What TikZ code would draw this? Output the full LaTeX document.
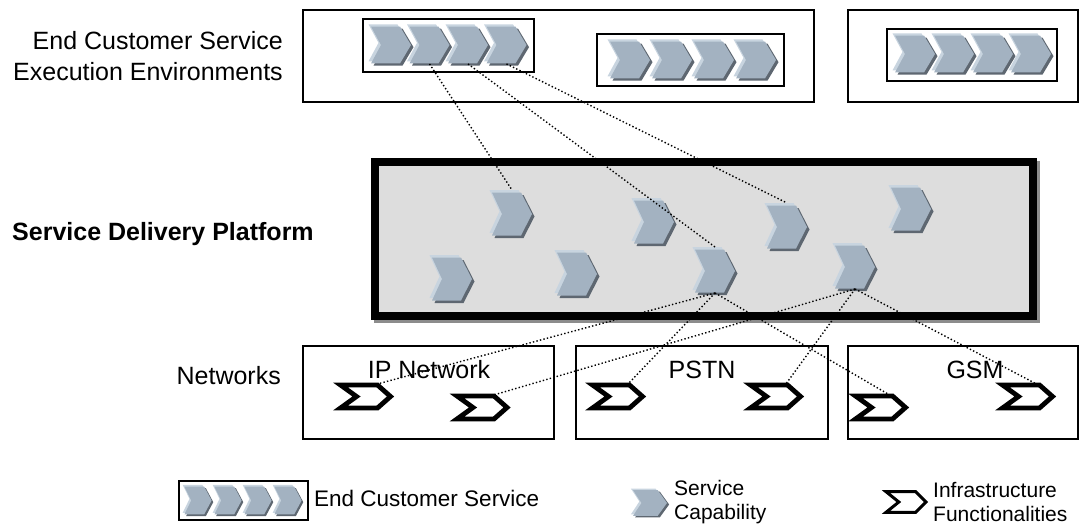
\documentclass[tikz,border=0pt]{standalone}
\usepackage{fontspec}
\setmainfont{Liberation Sans}
\definecolor{svcmain}{HTML}{A3B2C1}
\definecolor{svclight}{HTML}{C8D4DF}
\definecolor{svcdark}{HTML}{5E6771}
\definecolor{sdpfill}{HTML}{DDDDDD}
\definecolor{sdpshadow}{HTML}{8C8C8C}
\newcommand\lblfont{\fontsize{25}{30.5}\selectfont}
\newcommand\legfont{\fontsize{21}{24}\selectfont}
\tikzset{
  pics/svc/.style={code={
    \fill[svcdark, shift={(2.5,2.5)}] (-20,-21.5) -- (9,-21.5) -- (20,0) -- (9,21.5) -- (-20,21.5) -- (-10,0) -- cycle;
    \fill[svclight, shift={(-2.5,-2.5)}] (-20,-21.5) -- (9,-21.5) -- (20,0) -- (9,21.5) -- (-20,21.5) -- (-10,0) -- cycle;
    \fill[svcmain] (-20,-21.5) -- (9,-21.5) -- (20,0) -- (9,21.5) -- (-20,21.5) -- (-10,0) -- cycle;
    \coordinate (-t) at (0,-24);
    \coordinate (-b) at (0,22);
  }},
  pics/infra/.style={code={
    \draw[line width=#1, fill=white, miter limit=10] (-25,-11.5) -- (12,-11.5) -- (25,0) -- (12,11.5) -- (-25,11.5) -- (-9,0) -- cycle;
    \coordinate (-t) at (10,-12);
  }},
  pics/infra/.default=4.8pt,
  framebox/.style={draw, line width=2pt, inner sep=0pt},
  dotline/.style={line width=1.4pt, dash pattern=on 1.4pt off 2.2pt},
  lbl/.style={font=\lblfont, inner sep=0pt},
  leg/.style={font=\legfont, inner sep=0pt, align=left},
}
\begin{document}
\begin{tikzpicture}[x=1pt,y=-1pt]
\useasboundingbox (0,0) rectangle (1089,524);

% left labels
\node[lbl, align=right, anchor=east] (lenv) at (283,56) {End Customer Service\\Execution Environments};
\node[lbl, anchor=base west, font=\lblfont\bfseries] (lsdp) at (12,240) {Service Delivery Platform};
\node[lbl, anchor=base east] (lnet) at (281,384) {Networks};

% top execution environments
\node[framebox, minimum width=511pt, minimum height=92pt] (env1) at (558.5,56) {};
\node[framebox, minimum width=230pt, minimum height=92pt] (env2) at (963,56) {};
\node[framebox, minimum width=171pt, minimum height=53pt] (ecsA) at (448.5,45.5) {};
\node[framebox, minimum width=187pt, minimum height=52pt] (ecsB) at (690.5,60) {};
\node[framebox, minimum width=170pt, minimum height=52pt] (ecsC) at (972,55) {};

\foreach \i/\x in {1/391,2/429.5,3/468,4/506.5} \pic[yscale=0.86] (a\i) at (\x,45) {svc};
\foreach \i/\x in {1/630,2/672,3/714,4/756} \pic[yscale=0.86] (b\i) at (\x,60) {svc};
\foreach \i/\x in {1/915,2/954,3/993,4/1031} \pic[yscale=0.86] (c\i) at (\x,54) {svc};

% service delivery platform
\node[draw=sdpshadow, line width=8pt, minimum width=658pt, minimum height=154pt, inner sep=0pt] (sdpsh) at (707,242) {};
\node[draw=black, fill=sdpfill, line width=8pt, minimum width=658pt, minimum height=154pt, inner sep=0pt] (sdp) at (704,239) {};

\pic (s1) at (512,214) {svc};
\pic (s2) at (654,222) {svc};
\pic (s3) at (787,227) {svc};
\pic (s4) at (911,209) {svc};
\pic (s5) at (452,279) {svc};
\pic (s6) at (577,274) {svc};
\pic (s7) at (715,271) {svc};
\pic (s8) at (855,267) {svc};

% networks
\node[framebox, minimum width=251pt, minimum height=93pt] (ip) at (428.5,392.5) {};
\node[framebox, minimum width=252pt, minimum height=93pt] (pstn) at (702,392.5) {};
\node[framebox, minimum width=230pt, minimum height=93pt] (gsm) at (963,392.5) {};
\node[lbl, anchor=base] (tip) at (429,378) {IP Network};
\node[lbl, anchor=base] (tpstn) at (702,378) {PSTN};
\node[lbl, anchor=base] (tgsm) at (975,378) {GSM};

\pic (i1) at (365.5,396.5) {infra};
\pic (i2) at (482,407.5) {infra};
\pic (i3) at (617.5,396.5) {infra};
\pic (i4) at (775.5,396.5) {infra};
\pic (i5) at (880.5,407.5) {infra};
\pic (i6) at (1027.5,396.5) {infra};

% dotted connectors
\draw[dotline] (a2-b) -- (s1-t);
\draw[dotline] (a3-b) -- (s7-t);
\draw[dotline] (a4-b) -- (s3-t);
\draw[dotline] (s7-b) -- (i1-t);
\draw[dotline] (s7-b) -- (i3-t);
\draw[dotline] (s7-b) -- (i5-t);
\draw[dotline] (s8-b) -- (i2-t);
\draw[dotline] (s8-b) -- (i4-t);
\draw[dotline] (s8-b) -- (i6-t);

% legend
\node[framebox, minimum width=129pt, minimum height=39pt] (legbox) at (243.5,500.5) {};
\foreach \i/\x in {1/198,2/228,3/258,4/288} \pic[xscale=0.68, yscale=0.65] (l\i) at (\x,500.5) {svc};
\node[leg, font=\fontsize{22.5}{26}\selectfont, anchor=west] (tecs) at (314,498) {End Customer Service};
\pic[xscale=0.85, yscale=0.6] (ls) at (650,503) {svc};
\node[leg, anchor=west] (tsc) at (674,502) {Service\\Capability};
\pic[xscale=0.8, yscale=0.9] (li) at (906,502) {infra=3pt};
\node[leg, anchor=west] (tinf) at (933,502) {Infrastructure\\Functionalities};
\end{tikzpicture}
\end{document}
